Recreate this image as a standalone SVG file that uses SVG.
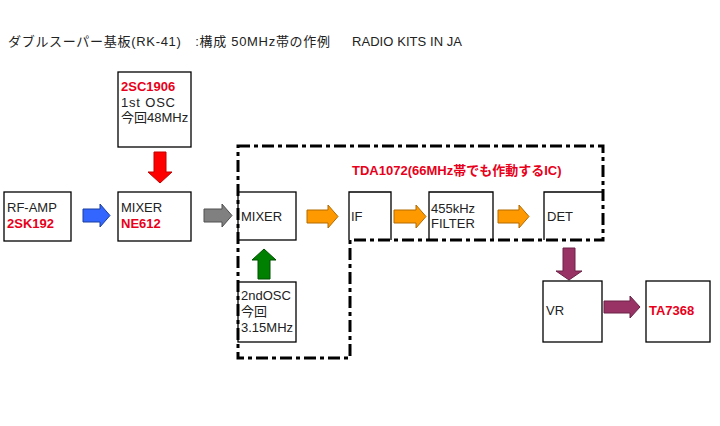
<svg xmlns="http://www.w3.org/2000/svg" width="720" height="426" viewBox="0 0 720 426">
<style>
text{font-family:"Liberation Sans","Noto Sans CJK JP",sans-serif;font-size:13px;fill:#222}
.r{fill:#e8001a;font-weight:bold}
.box{fill:#fff;stroke:#000;stroke-width:1.3}
.open{fill:none;stroke:#000;stroke-width:1.3}
.dash{fill:none;stroke:#000;stroke-width:3;stroke-dasharray:12,4,4,4}
</style>
<rect width="720" height="426" fill="#fff"/>
<text x="8" y="46" textLength="322" lengthAdjust="spacing">ダブルスーパー基板(RK-41)　:構成 50MHz帯の作例</text>
<text x="352" y="46" textLength="110" lengthAdjust="spacing">RADIO KITS IN JA</text>
<g id="connectors">
<path d="M154,152H166V172H172L160,183L148,172H154Z" fill="#ff0000" stroke="#c00000"/>
<path d="M83,209H100V204L110,215.5L100,227V222H83Z" fill="#3366ff" stroke="#1a3fa0"/>
<path d="M204,209H222V204L232,215.5L222,227V222H204Z" fill="#808080" stroke="#505050"/>
<path d="M307,210H328V205L338,216.5L328,228V223H307Z" fill="#ff9900" stroke="#b36b00"/>
<path d="M394,210H416V205L426,216.5L416,228V223H394Z" fill="#ff9900" stroke="#b36b00"/>
<path d="M498,210H519V205L529,216.5L519,228V223H498Z" fill="#ff9900" stroke="#b36b00"/>
<path d="M258,279V260H252L264,249L276,260H270V279Z" fill="#008000" stroke="#005000"/>
<path d="M563,248H575V271H582L569,280L556,271H563Z" fill="#993366" stroke="#6b2347"/>
<path d="M604,301H630V296L640,307L630,318V313H604Z" fill="#993366" stroke="#6b2347"/>
</g>
<g id="osc1"><rect class="box" x="118" y="72" width="73" height="75"/>
<text class="r" x="121" y="91">2SC1906</text><text x="121" y="107" textLength="54" lengthAdjust="spacing">1st OSC</text><text x="121" y="122">今回48MHz</text></g>
<g id="rfamp"><rect class="box" x="4" y="192" width="67" height="49"/>
<text x="7" y="212">RF-AMP</text><text class="r" x="7" y="228">2SK192</text></g>
<g id="mixer1"><rect class="box" x="118" y="192" width="73" height="49"/>
<text x="121" y="212">MIXER</text><text class="r" x="121" y="228">NE612</text></g>
<g id="mixer2"><rect class="box" x="238" y="192" width="58" height="48"/>
<text x="241" y="221">MIXER</text></g>
<g id="if"><path class="open" d="M349,240V192H391V240"/><text x="351" y="221">IF</text></g>
<g id="filter"><path class="open" d="M429,240V192H493V240"/><text x="431" y="213">455kHz</text><text x="431" y="228">FILTER</text></g>
<g id="det"><path class="open" d="M544,240V192H603"/><text x="547" y="221">DET</text></g>
<g id="osc2"><rect class="box" x="238" y="282" width="58" height="60"/>
<text x="241" y="300">2ndOSC</text><text x="241" y="316">今回</text><text x="241" y="332">3.15MHz</text></g>
<g id="vr"><rect class="box" x="543" y="281" width="59" height="61"/><text x="546" y="315">VR</text></g>
<g id="ta7368"><rect class="box" x="646" y="281" width="64" height="61"/><text class="r" x="649" y="315">TA7368</text></g>
<g id="tda1072">
<path class="dash" d="M238,146H603V240H350V358H238Z"/>
<text class="r" x="352" y="175">TDA1072(66MHz帯でも作動するIC)</text>
</g>
</svg>
